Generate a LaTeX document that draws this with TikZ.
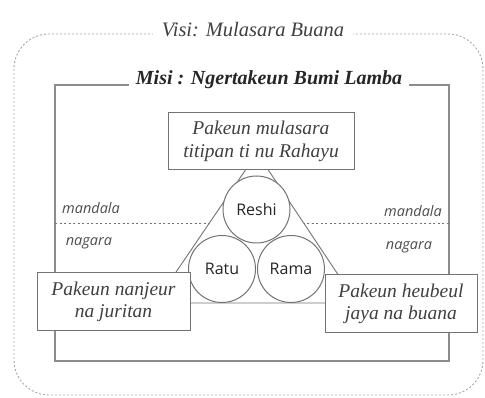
\documentclass[tikz,border=0pt]{standalone}
\usepackage{fontspec}
\setmainfont{Liberation Serif}
\newfontfamily\serifT{Liberation Serif}
\newfontfamily\sansT{Open Sans}
\begin{document}
\begin{tikzpicture}[x=1pt,y=-1pt,
  gline/.style={draw=black!45,line width=1.2pt},
  tbox/.style={draw=black!55,line width=1pt,fill=white,inner sep=0pt,align=center,
    font=\serifT\itshape\fontsize{19.5}{22.5}\selectfont,text=black!75},
  circ/.style={circle,draw=black!55,line width=1pt,fill=white,minimum size=67pt,inner sep=0pt,
    font=\sansT\fontsize{16}{18}\selectfont,text=black!85},
  lab/.style={font=\sansT\itshape\fontsize{14.5}{16}\selectfont,text=black!70}]
\useasboundingbox (0,0) rectangle (485,398);
% outer dashed rounded frame
\draw[draw=black!35,line width=0.9pt,dash pattern=on 2pt off 2pt,rounded corners=35pt]
  (14,34) rectangle (483,395);
\node[fill=white,inner xsep=9pt,font=\serifT\itshape\fontsize{20.5}{22}\selectfont,text=black!75]
  (visi) at (253,30) {Visi: Mulasara Buana};
% inner frame
\draw[gline] (55,85) rectangle (449,361);
\node[fill=white,inner xsep=7pt,font=\serifT\bfseries\itshape\fontsize{20}{22}\selectfont,text=black!85]
  (misi) at (269,80) {Misi : Ngertakeun Bumi Lamba};
% dashed divider
\coordinate (dl) at (55,223);
\coordinate (dr) at (449,223);
\draw[draw=black!55,line width=0.8pt,dash pattern=on 2pt off 2.5pt] (dl) -- (dr);
% labels
\node[lab] (m1) at (91,208) {mandala};
\node[lab] (n1) at (89,243) {nagara};
\node[lab] (m2) at (413,211) {mandala};
\node[lab] (n2) at (409,247) {nagara};
% triangle
\coordinate (apex) at (257,153);
\coordinate (bl) at (155,303);
\coordinate (br) at (357,303);
\draw[draw=black!55,line width=0.9pt,fill=white] (apex) -- (bl) -- (br) -- cycle;
% circles
\node[circ] (reshi) at (256.5,209.5) {Reshi};
\node[circ] (ratu) at (222,269) {Ratu};
\node[circ] (rama) at (291,269) {Rama};
% boxes
\node[tbox,minimum width=186pt,minimum height=57pt] (top) at (261,141.5)
  {Pakeun mulasara\\titipan ti nu Rahayu};
\node[tbox,minimum width=153pt,minimum height=58pt] (left) at (113.5,302)
  {Pakeun nanjeur\\na juritan};
\node[tbox,minimum width=152pt,minimum height=58pt] (right) at (401,304)
  {Pakeun heubeul\\jaya na buana};
\end{tikzpicture}
\end{document}
